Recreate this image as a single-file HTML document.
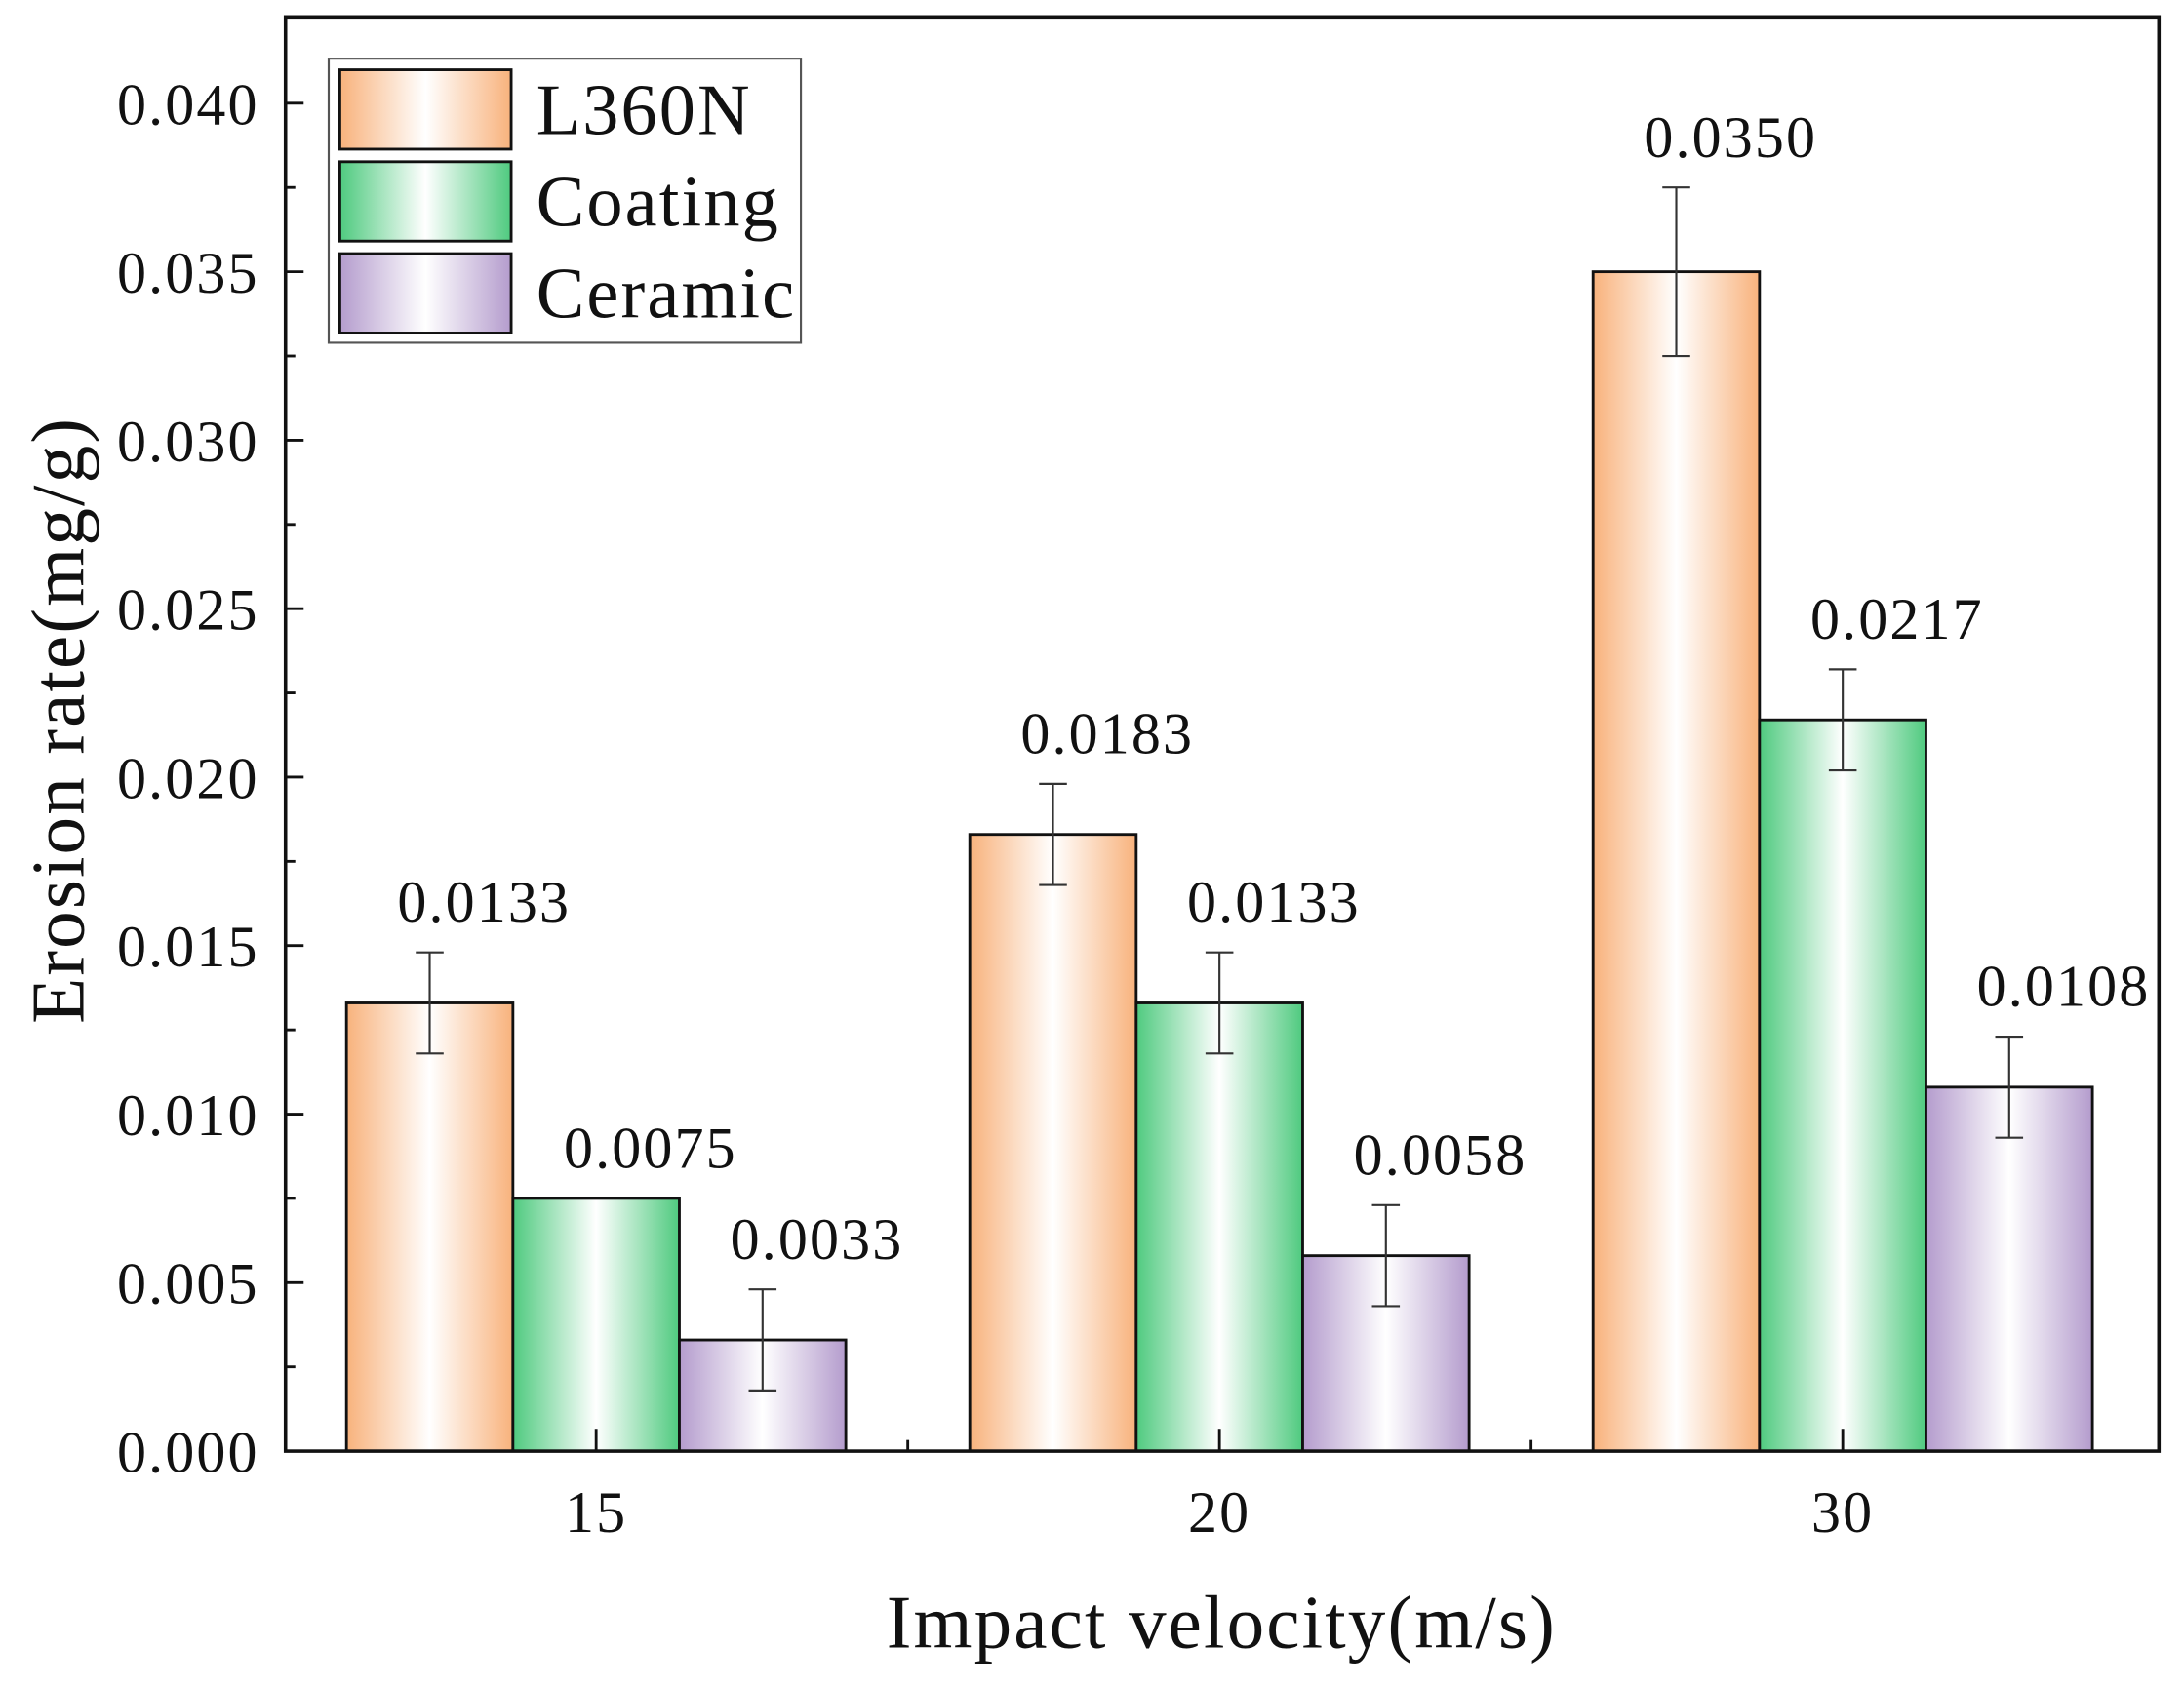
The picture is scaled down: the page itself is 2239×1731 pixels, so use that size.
<!DOCTYPE html>
<html><head><meta charset="utf-8"><style>
html,body{margin:0;padding:0;background:#fff;}
svg{display:block;}
text{font-family:"Liberation Serif",serif;fill:#111;}
</style></head><body>
<svg id="chart" width="2239" height="1731" viewBox="0 0 1568 1212" xmlns="http://www.w3.org/2000/svg">
<defs>
<linearGradient id="gL" x1="0" x2="1" y1="0" y2="0"><stop offset="0" stop-color="#f8b27c"/><stop offset="0.5" stop-color="#ffffff"/><stop offset="1" stop-color="#f8b27c"/></linearGradient>
<linearGradient id="gC" x1="0" x2="1" y1="0" y2="0"><stop offset="0" stop-color="#4fca7f"/><stop offset="0.5" stop-color="#ffffff"/><stop offset="1" stop-color="#4fca7f"/></linearGradient>
<linearGradient id="gR" x1="0" x2="1" y1="0" y2="0"><stop offset="0" stop-color="#b49ccd"/><stop offset="0.5" stop-color="#ffffff"/><stop offset="1" stop-color="#b49ccd"/></linearGradient>
</defs>
<g id="plot"></g>
</svg>
<script>
const categories = ['15','20','30'];
const seriesNames = ['L360N','Coating','Ceramic'];
const l360n = [0.0133, 0.0183, 0.0350];
const coating = [0.0075, 0.0133, 0.0217];
const ceramic = [0.0033, 0.0058, 0.0108];
const l360nErr = [0.0015, 0.0015, 0.0025];
const coatingErr = [0, 0.0015, 0.0015];
const ceramicErr = [0.0015, 0.0015, 0.0015];
const valueLabels = [['0.0133','0.0183','0.0350'],['0.0075','0.0133','0.0217'],['0.0033','0.0058','0.0108']];
const yTicks = [0,0.005,0.010,0.015,0.020,0.025,0.030,0.035,0.040];
const yTickLabels = ['0.000','0.005','0.010','0.015','0.020','0.025','0.030','0.035','0.040'];

const NS='http://www.w3.org/2000/svg';
const g=document.getElementById('plot');
const L=205,R=1550,T=12,B=1042;
const y=v=>B-v*(968/0.040);
const xc=i=>428+i*447.5;
const bw=119.5;
function mk(tag,attrs,parent){const e=document.createElementNS(NS,tag);for(const k in attrs)e.setAttribute(k,attrs[k]);(parent||g).appendChild(e);return e;}
const series=[l360n,coating,ceramic];
const errs=[l360nErr,coatingErr,ceramicErr];
const fills=['url(#gL)','url(#gC)','url(#gR)'];
const keys=['l360n','coating','ceramic'];
series.forEach((s,si)=>{
  s.forEach((v,ci)=>{
    const x0=xc(ci)+(si-1.5)*bw;
    const r=mk('rect',{x:x0,y:y(v),width:bw,height:B-y(v),fill:fills[si],stroke:'#111','stroke-width':2});
    
    
    const e=errs[si][ci];const cx=x0+bw/2;
    if(e>0){
      const eg=mk('g',{stroke:'#333','stroke-width':1.5});
      
      
      mk('line',{x1:cx,x2:cx,y1:y(v+e),y2:y(v-e)},eg);
      mk('line',{x1:cx-10,x2:cx+10,y1:y(v+e),y2:y(v+e)},eg);
      mk('line',{x1:cx-10,x2:cx+10,y1:y(v-e),y2:y(v-e)},eg);
    }
    const t=mk('text',{x:cx+39,y:y(v+e)-22,'text-anchor':'middle','font-size':42,'letter-spacing':1.5});
    t.textContent=valueLabels[si][ci];
    
    
  });
});
const fr=mk('rect',{x:L,y:T,width:R-L,height:B-T,fill:'none',stroke:'#111','stroke-width':2.5});


yTicks.forEach((v,i)=>{
  mk('line',{x1:L,x2:L+13,y1:y(v),y2:y(v),stroke:'#111','stroke-width':2});
  if(i<yTicks.length-1) mk('line',{x1:L,x2:L+7,y1:y(v+0.0025),y2:y(v+0.0025),stroke:'#111','stroke-width':2});
  const t=mk('text',{x:186,y:y(v)+15,'text-anchor':'end','font-size':42,'letter-spacing':1.5});
  t.textContent=yTickLabels[i];
  
  
});
categories.forEach((c,i)=>{
  mk('line',{x1:xc(i),x2:xc(i),y1:B,y2:B-16,stroke:'#111','stroke-width':2});
  if(i<categories.length-1) mk('line',{x1:xc(i)+223.75,x2:xc(i)+223.75,y1:B,y2:B-8,stroke:'#111','stroke-width':2});
  const t=mk('text',{x:xc(i),y:1100,'text-anchor':'middle','font-size':42,'letter-spacing':1.5});
  t.textContent=c;
  
  
});
const xt=mk('text',{x:877,y:1183,'text-anchor':'middle','font-size':54,'letter-spacing':1.5});
xt.textContent='Impact velocity(m/s)';


const yt=mk('text',{x:0,y:0,'text-anchor':'middle','font-size':54,'letter-spacing':1.5,transform:'translate(60,517) rotate(-90)'});
yt.textContent='Erosion rate(mg/g)';


const lg=mk('g',{});


mk('rect',{x:236,y:42,width:339,height:204,fill:'#fff',stroke:'#555','stroke-width':1.5},lg);
seriesNames.forEach((n,i)=>{
  const ey=50+i*66;
  const en=mk('g',{},lg);
  
  
  mk('rect',{x:244,y:ey,width:123,height:57,fill:fills[i],stroke:'#111','stroke-width':2},en);
  const t=mk('text',{x:385,y:ey+46,'font-size':52,'letter-spacing':1.5},en);
  t.textContent=n;
});
</script>
</body></html>
